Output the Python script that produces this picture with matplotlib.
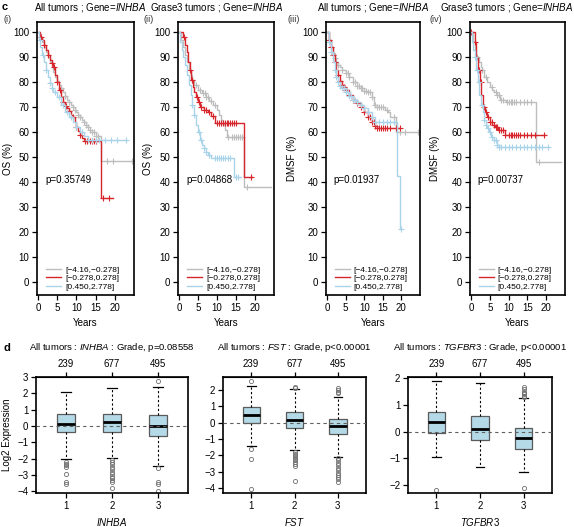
import numpy as np
import matplotlib
matplotlib.use("Agg")
import matplotlib.pyplot as plt

plt.rcParams['font.family'] = ['Liberation Sans', 'DejaVu Sans']
plt.rcParams['mathtext.fontset'] = 'custom'
plt.rcParams['mathtext.rm'] = 'Liberation Sans'
plt.rcParams['mathtext.it'] = 'Liberation Sans:italic'

# ---------------- KM data ----------------
legend_labels = ["[\u22124.16,\u22120.278]", "[\u22120.278,0.278]", "[0.450,2.778]"]
curve_colors = ["#bdbdbd", "#d7262b", "#a9d3e8"]

# Panel (i) OS, all tumors
i_low_t = [0, 0.5, 1, 1.5, 2, 2.5, 3, 3.5, 4, 4.5, 5, 5.5, 6, 6.5, 7, 7.5, 8, 8.5, 9, 9.5, 10, 10.5, 11, 11.5, 12, 12.5, 13, 13.5, 14, 15, 16.5]
i_low_s = [100, 98, 96, 94, 92, 90, 88, 86, 84, 82, 80.5, 79, 77.5, 76, 74.5, 73, 72, 71, 70, 69, 68, 67, 66, 65, 64, 63, 62, 61, 60, 58.5, 48.5]
i_low_end = 24.8
i_low_c = [6, 7, 8, 9, 9.5, 10.5, 11, 12, 12.5, 13, 13.5, 14, 14.5, 15, 15.5, 18, 19.5, 24.5]
i_mid_t = [0, 0.5, 1, 1.5, 2, 2.5, 3, 3.5, 4, 4.5, 5, 5.5, 6, 6.5, 7, 7.5, 8, 8.5, 9, 9.5, 10, 10.5, 11, 11.5, 12, 16.3]
i_mid_s = [100, 98, 97, 95, 93, 91, 89, 87.5, 86, 83, 80, 77, 74, 72, 70.5, 69.5, 68.5, 67, 66, 64, 62, 60.5, 59, 57.5, 56.5, 33.7]
i_mid_end = 19.5
i_mid_c = [0.8, 1.5, 2.5, 3.5, 4.2, 5, 5.8, 6.5, 7.2, 8, 9, 10, 11, 12.2, 12.8, 13.4, 14, 14.5, 15, 17, 18.5]
i_high_t = [0, 0.3, 0.6, 1, 1.5, 2, 2.5, 3, 3.5, 4, 5, 6, 7, 8, 9, 10, 11, 12, 13]
i_high_s = [100, 97, 94, 91, 88, 85, 82, 79.5, 77.5, 76, 74, 71, 68, 66, 64, 62, 60, 58.5, 57]
i_high_end = 23
i_high_c = [0.5, 1.2, 2, 3, 3.6, 4.5, 5.5, 6.5, 7.5, 8.5, 10, 11.5, 13, 14, 15, 16, 17.5, 19, 20.5, 23]

# Panel (ii) OS, grade 3
ii_low_t = [0, 0.5, 1, 1.5, 2, 2.5, 3, 3.5, 4, 5, 6, 7, 8, 9, 10, 10.5, 11, 11.5, 12, 12.5, 17.1]
ii_low_s = [100, 97, 94, 91, 88, 85, 83, 81, 79, 77, 75.5, 74, 72.5, 71, 69, 67, 65, 63, 61, 58, 38]
ii_low_end = 24.3
ii_low_c = [3.5, 4.5, 5.5, 6.2, 6.8, 7.2, 7.6, 8.5, 9.5, 13, 14, 14.5, 15, 15.5, 16, 16.5, 18]
ii_mid_t = [0, 1.1, 1.5, 2, 2.4, 2.8, 3.2, 3.6, 4, 4.5, 5, 5.5, 6.5, 7.5, 8.5, 9.5, 17.1]
ii_mid_s = [100, 98, 95, 92, 88, 85, 81, 78, 76, 74, 72, 70, 69, 68, 66.5, 63.5, 42]
ii_mid_end = 19.2
ii_mid_c = [1.3, 2.8, 3.3, 4.6, 5.2, 5.8, 6.5, 7.2, 8, 9, 10, 10.5, 11, 11.5, 12, 12.5, 13, 13.5, 14, 14.5, 15, 19]
ii_high_t = [0, 0.3, 0.7, 1, 1.5, 2, 2.5, 3, 3.5, 4, 4.5, 5, 5.5, 6, 6.5, 7, 7.5, 8.3, 14.4]
ii_high_s = [100, 96, 93, 90, 87, 83, 79, 75, 71, 67, 63, 60, 57, 55, 53.5, 52, 51, 49.5, 42]
ii_high_end = 16.3
ii_high_c = [3.5, 4, 5.2, 5.8, 6.5, 7.2, 8, 9.5, 10, 10.5, 11, 11.5, 12, 13, 13.5, 15, 15.5]

# Panel (iii) DMSF, all tumors
iii_low_t = [0, 0.5, 1, 1.5, 2, 2.5, 3, 3.5, 4, 5, 6, 7, 8, 9, 10, 11, 12, 12.6, 13.5, 15.7, 16.5, 17, 18.6]
iii_low_s = [100, 97, 94, 91.5, 89.5, 88, 87, 86, 85, 83.5, 82, 80, 78.5, 77.5, 76.5, 76, 74, 71, 70, 69, 68, 66, 60]
iii_low_end = 25
iii_low_c = [1, 2, 3, 4, 5, 5.5, 6, 7, 7.5, 8, 8.5, 9, 9.5, 10, 10.5, 11, 11.5, 12, 13, 13.5, 14, 14.5, 15, 16, 18, 19.5, 21, 24.5]
iii_mid_t = [0, 0.5, 1, 1.5, 2, 2.5, 3, 3.5, 4, 4.5, 5, 6, 7, 8, 9, 10, 11, 12, 13, 13.5]
iii_mid_s = [100, 97, 94, 91, 88, 85, 83, 80.5, 79, 78, 77, 75, 73, 71.5, 70, 68, 66, 64, 62.5, 61.5]
iii_mid_end = 19.6
iii_mid_c = [0.5, 1, 1.5, 2, 3, 3.5, 4, 4.5, 5.2, 6, 7, 8, 9, 10, 11, 11.5, 12, 12.5, 13, 13.5, 14, 14.5, 15, 15.5, 16, 17, 18.5, 19.5]
iii_high_t = [0, 0.5, 1, 1.5, 2, 2.5, 3, 3.5, 4, 5, 6, 7, 8, 9, 10, 11, 12, 13, 18.8, 19.7]
iii_high_s = [100, 96, 92, 88, 85, 82, 80, 78.5, 77.5, 76, 74.5, 73, 72, 71, 69.5, 68, 66, 64, 42.6, 21.2]
iii_high_end = 20
iii_high_c = [0.5, 1, 2, 2.5, 3, 3.5, 4, 4.5, 5, 5.5, 6, 6.5, 7, 7.5, 8, 9, 10, 11, 12, 13, 14, 15, 16, 17, 18, 20]

# Panel (iv) DMSF, grade 3
iv_low_t = [0, 0.5, 1, 1.4, 2, 2.5, 3, 3.5, 4.3, 5, 5.6, 6.2, 6.8, 7.7, 9.3, 17.25]
iv_low_s = [100, 96, 93, 90, 88, 86, 85, 82, 80, 78, 77, 76, 75, 73, 72, 48]
iv_low_end = 24
iv_low_c = [1.5, 3, 4, 5.5, 6.5, 7, 7.5, 8, 8.5, 9.5, 10, 10.5, 11, 11.5, 12, 13, 14, 15, 16, 18]
iv_mid_t = [0, 1, 1.4, 1.8, 2.25, 2.7, 3.1, 3.6, 4.3, 5, 5.6, 6.4, 7.25, 8.9]
iv_mid_s = [100, 96, 90, 85, 80, 75, 70, 68, 66, 64, 63, 62, 61, 59]
iv_mid_end = 19.75
iv_mid_c = [0, 1, 2.2, 2.5, 3.3, 4, 4.5, 5, 5.5, 6, 6.5, 7, 7.5, 8, 8.5, 9, 10, 10.5, 11, 11.5, 12, 12.5, 13, 14, 15, 16, 17, 19.5]
iv_high_t = [0, 0.3, 0.6, 1, 1.4, 1.8, 2.2, 2.6, 3.1, 3.5, 3.9, 4.3, 4.75, 5.3, 6, 6.8, 7.5]
iv_high_s = [100, 96, 93, 90, 85, 80, 75, 71, 68, 65, 63, 61.5, 60, 58, 57, 55, 54]
iv_high_end = 20.6
iv_high_c = [1, 1.5, 2, 3, 3.5, 4, 4.5, 5, 5.5, 6, 6.5, 7, 7.5, 8, 9, 10, 11, 12, 13, 14, 15, 16, 17, 18, 19, 20.5]

km_titles = [r"All tumors ; Gene=$\it{INHBA}$", r"Grase3 tumors ; Gene=$\it{INHBA}$",
             r"All tumors ; Gene=$\it{INHBA}$", r"Grase3 tumors ; Gene=$\it{INHBA}$"]
km_ylabels = ["OS (%)", "OS (%)", "DMSF (%)", "DMSF (%)"]
km_pvals = ["p=0.35749", "p=0.04868", "p=0.01937", "p=0.00737"]
km_tags = ["(i)", "(ii)", "(iii)", "(iv)"]

km_panels = [
    [(i_low_t, i_low_s, i_low_end, i_low_c), (i_mid_t, i_mid_s, i_mid_end, i_mid_c), (i_high_t, i_high_s, i_high_end, i_high_c)],
    [(ii_low_t, ii_low_s, ii_low_end, ii_low_c), (ii_mid_t, ii_mid_s, ii_mid_end, ii_mid_c), (ii_high_t, ii_high_s, ii_high_end, ii_high_c)],
    [(iii_low_t, iii_low_s, iii_low_end, iii_low_c), (iii_mid_t, iii_mid_s, iii_mid_end, iii_mid_c), (iii_high_t, iii_high_s, iii_high_end, iii_high_c)],
    [(iv_low_t, iv_low_s, iv_low_end, iv_low_c), (iv_mid_t, iv_mid_s, iv_mid_end, iv_mid_c), (iv_high_t, iv_high_s, iv_high_end, iv_high_c)],
]

# ---------------- Boxplot data ----------------
box_genes = ["INHBA", "FST", "TGFBR3"]
box_pvals = ["p=0.08558", "p<0.00001", "p<0.00001"]
grades = [1, 2, 3]
grade_counts = ["239", "677", "495"]

inhba_q1 = [-0.39, -0.35, -0.63]
inhba_med = [0.14, 0.22, 0.02]
inhba_q3 = [0.71, 0.72, 0.67]
inhba_wlo = [-2.04, -1.98, -2.43]
inhba_whi = [2.1, 2.35, 2.37]
inhba_fl = [[-2.2, -2.3, -2.4, -2.5, -2.96, -3.4, -3.55],
            [-2.08, -2.2, -2.35, -2.5, -2.65, -2.8, -2.95, -3.1, -3.2, -3.3, -3.45, -3.78],
            [2.78, -2.6, -3.45, -3.57, -3.96]]

fst_q1 = [0.0, -0.31, -0.71]
fst_med = [0.45, 0.16, -0.2]
fst_q3 = [0.98, 0.63, 0.2]
fst_wlo = [-1.41, -1.67, -2.08]
fst_whi = [2.24, 2.05, 1.6]
fst_fl = [[2.57, -1.61, -2.2, -4.08],
          [2.2, 2.15, -1.78, -1.9, -2.0, -2.1, -2.2, -2.3, -2.4, -2.5, -2.63, -3.57],
          [2.1, 2.0, 1.9, 1.8, -2.18, -2.3, -2.45, -2.6, -2.75, -2.9, -3.05, -3.2, -3.35, -3.45, -3.6]]

tgfbr3_q1 = [-0.06, -0.32, -0.64]
tgfbr3_med = [0.37, 0.09, -0.23]
tgfbr3_q3 = [0.74, 0.57, 0.15]
tgfbr3_wlo = [-0.96, -1.34, -1.53]
tgfbr3_whi = [1.9, 1.82, 1.25]
tgfbr3_fl = [[-2.18], [], [1.3, 1.35, 1.4, 1.45, 1.5, 1.6, 1.66, -2.13]]

box_sets = [
    (inhba_q1, inhba_med, inhba_q3, inhba_wlo, inhba_whi, inhba_fl),
    (fst_q1, fst_med, fst_q3, fst_wlo, fst_whi, fst_fl),
    (tgfbr3_q1, tgfbr3_med, tgfbr3_q3, tgfbr3_wlo, tgfbr3_whi, tgfbr3_fl),
]
box_ylims = [(-4.1, 3.0), (-4.3, 2.8), (-2.3, 2.05)]
box_yticks = [[-4, -3, -2, -1, 0, 1, 2, 3], [-4, -3, -2, -1, 0, 1, 2], [-2, -1, 0, 1, 2]]

# ---------------- Figure ----------------
W, H = 574, 527
fig = plt.figure(figsize=(W / 100, H / 100), dpi=100)

def frac_rect(l, t, r, b):
    return [l / W, 1 - b / H, (r - l) / W, (b - t) / H]

km_rects = [(37, 22, 134, 295), (178, 22, 274, 295), (326, 22, 420, 295), (470, 22, 565, 295)]
km_title_cx = [90, 217, 373, 507]
km_ylabel_x = [-0.25, -0.26, -0.31, -0.315]
tag_pos = [(3, 20), (144, 20), (288, 20), (430, 20)]

def step_value(t, times, surv):
    idx = np.searchsorted(times, t, side='right') - 1
    return np.asarray(surv)[idx]

for p in range(4):
    ax = fig.add_axes(frac_rect(*km_rects[p]))
    order = [0, 2, 1]
    handles = [None, None, None]
    for g in order:
        t, s, end, c = km_panels[p][g]
        tt = list(t) + [end]
        ss = list(s) + [s[-1]]
        ln, = ax.step(tt, ss, where='post', color=curve_colors[g], lw=1.0, zorder=2 + g * 0.1)
        handles[g] = ln
        cy = [step_value(ci, t, s) for ci in c]
        ax.plot(c, cy, ls='none', marker='+', ms=4, mew=0.8, color=curve_colors[g], zorder=2 + g * 0.1)
    ax.set_xlim(-0.3, 25)
    ax.set_ylim(-5, 104)
    ax.set_xticks([0, 5, 10, 15, 20])
    ax.set_yticks(range(0, 101, 10))
    ax.tick_params(labelsize=7, length=3.5, width=0.9, pad=2)
    for sp in ax.spines.values():
        sp.set_linewidth(1.2)
    ax.set_xlabel("Years", fontsize=7, labelpad=4)
    ax.set_ylabel(km_ylabels[p], fontsize=7)
    ax.yaxis.set_label_coords(km_ylabel_x[p], 0.5)
    ax.text(1.8, 41, km_pvals[p], fontsize=7, va='center', ha='left')
    ax.legend(handles, legend_labels, loc='lower left', bbox_to_anchor=(0.03, -0.005),
              fontsize=6, frameon=False, handlelength=1.8, handletextpad=0.5,
              labelspacing=0.05, borderpad=0.2)
    fig.text(km_title_cx[p] / W, 1 - 7 / H, km_titles[p], fontsize=7, ha='center', va='center')
    fig.text(tag_pos[p][0] / W, 1 - tag_pos[p][1] / H, km_tags[p], fontsize=6.5, ha='left', va='center', color='#333333')

fig.text(2 / W, 1 - 7 / H, "c", fontsize=8, fontweight='bold', ha='left', va='center')
fig.text(3 / W, 1 - 348 / H, "d", fontsize=8, fontweight='bold', ha='left', va='center')

box_rects = [(36, 377, 188, 493), (223, 377, 366, 493), (408, 377, 552, 493)]
for b in range(3):
    ax = fig.add_axes(frac_rect(*box_rects[b]))
    q1, med, q3, wlo, whi, fl = box_sets[b]
    stats = []
    for k in range(3):
        stats.append(dict(med=med[k], q1=q1[k], q3=q3[k], whislo=wlo[k], whishi=whi[k],
                          fliers=fl[k], label=str(grades[k])))
    ax.bxp(stats, positions=grades, widths=0.4, patch_artist=True,
           boxprops=dict(facecolor='#b4d9e7', edgecolor='#5a5a5a', linewidth=0.9),
           medianprops=dict(color='black', linewidth=2.0),
           whiskerprops=dict(color='black', linewidth=0.8, linestyle=(0, (2, 2))),
           capprops=dict(color='black', linewidth=0.9),
           capwidths=0.2,
           flierprops=dict(marker='o', markersize=3, markerfacecolor='none',
                           markeredgecolor='#707070', markeredgewidth=0.6))
    ax.axhline(0, color='#606060', lw=0.8, ls=(0, (3, 3)), zorder=5)
    ax.set_xlim(0.35, 3.65)
    ax.set_ylim(*box_ylims[b])
    ax.set_yticks(box_yticks[b])
    ax.set_yticklabels([str(v).replace('-', '\u2212') for v in box_yticks[b]])
    ax.set_xticks(grades)
    ax.set_xticklabels([str(g) for g in grades])
    ax.tick_params(labelsize=7, length=3.5, width=0.9, pad=2)
    sec = ax.secondary_xaxis('top')
    sec.set_xticks(grades)
    sec.set_xticklabels(grade_counts)
    sec.tick_params(labelsize=7, length=3.5, width=0.9, pad=2)
    for sp in ax.spines.values():
        sp.set_linewidth(1.2)
    ax.set_xlabel(r"$\it{" + box_genes[b] + "}$", fontsize=7, labelpad=4)
    if b == 0:
        ax.set_ylabel("Log2 Expression", fontsize=7)
        ax.yaxis.set_label_coords(-0.158, 0.5)
    cx = (box_rects[b][0] + box_rects[b][2]) / 2
    fig.text(cx / W, 1 - 347 / H, r"All tumors : $\it{" + box_genes[b] + "}$ : Grade, " + box_pvals[b],
             fontsize=6.8, ha='center', va='center')

fig.savefig("out.png", dpi=100)
